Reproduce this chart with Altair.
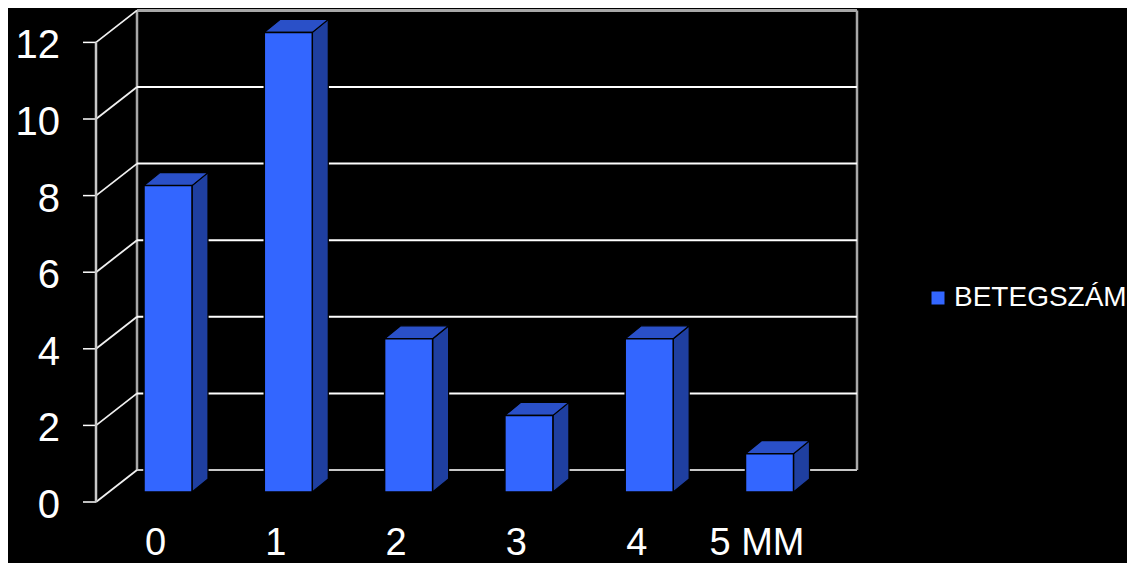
import altair as alt
import pandas as pd

# ---------------- data ----------------
categories = ["0", "1", "2", "3", "4", "5 MM"]
values = [8, 12, 4, 2, 4, 1]
y_ticks = [0, 2, 4, 6, 8, 10, 12]
series_name = "BETEGSZÁM"

# ---------------- layout constants (pixels) ----------------
W, H = 1119, 555
PX_CAT = 120.3          # pixels per category step
PX_VAL = 38.3           # pixels per value unit
ORIGIN_X = 136          # chart x of first bar's front-left edge
ORIGIN_Y = 484          # chart y of bar bottoms (value 0)

def ux(page_x):
    return (page_x - 8 - ORIGIN_X) / PX_CAT

def vy(page_y):
    return (ORIGIN_Y - (page_y - 8)) / PX_VAL

XDOM = [ux(8), ux(8 + W)]
YDOM = [vy(8 + H), vy(8)]

BW = 48 / PX_CAT         # bar front width
DX = 16 / PX_CAT         # bar depth (x)
DY = 13 / PX_VAL         # bar depth (y)
BACK_L, BACK_R = ux(137), ux(857)
BACK_DV = vy(470)        # back wall zero level
FRONT_X = ux(96)
FRONT_DV = vy(502)       # front axis zero level
TICK_X0 = ux(83)

xs = alt.Scale(domain=XDOM, nice=False, zero=False)
ys = alt.Scale(domain=YDOM, nice=False, zero=False)

def X(f):
    return alt.X(f, type="quantitative", scale=xs, axis=None)

def Y(f):
    return alt.Y(f, type="quantitative", scale=ys, axis=None)

# ---------------- tables ----------------
bars = pd.DataFrame({
    "cat": categories,
    "x0": [i for i in range(len(values))],
    "x1": [i + BW for i in range(len(values))],
    "y0": [0] * len(values),
    "y1": values,
    "series": [series_name] * len(values),
})

side_rows, top_rows = [], []
for i, v in enumerate(values):
    side_rows.append({"bar": i, "x": i + BW, "lo": 0, "hi": v})
    side_rows.append({"bar": i, "x": i + BW + DX, "lo": DY, "hi": v + DY})
    top_rows.append({"bar": i, "y": v, "xa": i, "xb": i + BW})
    top_rows.append({"bar": i, "y": v + DY, "xa": i + DX, "xb": i + BW + DX})
side = pd.DataFrame(side_rows)
top = pd.DataFrame(top_rows)

grid = pd.DataFrame({
    "xa": [BACK_L] * len(y_ticks),
    "xb": [BACK_R] * len(y_ticks),
    "y": [g + BACK_DV for g in y_ticks],
    "g": y_ticks,
})
inner_grid = grid[(grid.g > 0) & (grid.g < 12)]
edge_grid = grid[(grid.g == 0)]
top_grid = grid[(grid.g == 12)]

diag = pd.DataFrame({
    "xa": [FRONT_X] * len(y_ticks),
    "xb": [BACK_L] * len(y_ticks),
    "ya": [g + FRONT_DV for g in y_ticks],
    "yb": [g + BACK_DV for g in y_ticks],
    "tx": [TICK_X0] * len(y_ticks),
    "lab": [str(g) for g in y_ticks],
    "ly": [g + FRONT_DV - 16 / PX_VAL for g in y_ticks],
    "lx": [ux(60)] * len(y_ticks),
})

walls = pd.DataFrame({
    "x": [BACK_L, BACK_R],
    "ya": [BACK_DV, BACK_DV],
    "yb": [12 + BACK_DV, 12 + BACK_DV],
})
front_axis = pd.DataFrame({"x": [FRONT_X], "ya": [FRONT_DV], "yb": [12 + FRONT_DV]})

xlabels = pd.DataFrame({
    "cat": categories,
    "x": [i + 11.5 / PX_CAT for i in range(len(categories))],
    "y": [vy(554.5)] * len(categories),
})

# ---------------- layers ----------------
wall_lines = alt.Chart(walls).mark_rule(color="#a8a8a8", strokeWidth=2.5).encode(
    x=X("x"), y=Y("ya"), y2="yb")
inner = alt.Chart(inner_grid).mark_rule(color="#ffffff", strokeWidth=2).encode(
    x=X("xa"), x2="xb", y=Y("y"))
bottom = alt.Chart(edge_grid).mark_rule(color="#c8c8c8", strokeWidth=2).encode(
    x=X("xa"), x2="xb", y=Y("y"))
topline = alt.Chart(top_grid).mark_rule(color="#a8a8a8", strokeWidth=3).encode(
    x=X("xa"), x2="xb", y=Y("y"))
diags = alt.Chart(diag).mark_rule(color="#f0f0f0", strokeWidth=1.8).encode(
    x=X("xa"), x2="xb", y=Y("ya"), y2="yb")
ticks = alt.Chart(diag).mark_rule(color="#ffffff", strokeWidth=1.5).encode(
    x=X("tx"), x2="xa", y=Y("ya"))
faxis = alt.Chart(front_axis).mark_rule(color="#c8c8c8", strokeWidth=2.5).encode(
    x=X("x"), y=Y("ya"), y2="yb")
ylabels = alt.Chart(diag).mark_text(
    align="right", baseline="alphabetic", font="Liberation Sans", fontSize=40, color="white"
).encode(x=X("lx"), y=Y("ly"), text="lab:N")
xlab = alt.Chart(xlabels).mark_text(
    align="center", baseline="alphabetic", font="Liberation Sans", fontSize=38, color="white"
).encode(x=X("x"), y=Y("y"), text="cat:N")

side_faces = alt.Chart(side).mark_area(
    color="#1f3fa0", stroke="#000000", strokeWidth=1.2, opacity=1
).encode(x=X("x"), y=Y("lo"), y2="hi", detail="bar:N")
top_faces = alt.Chart(top).mark_area(
    orient="horizontal", color="#2a50c8", stroke="#000000", strokeWidth=1.2, opacity=1
).encode(y=Y("y"), x=X("xa"), x2="xb", detail="bar:N")
front_faces = alt.Chart(bars).mark_rect(
    stroke="#000000", strokeWidth=1.5, opacity=1
).encode(
    x=X("x0"), x2="x1", y=Y("y0"), y2="y1",
    color=alt.Color(
        "series:N",
        scale=alt.Scale(domain=[series_name], range=["#3366ff"]),
        legend=alt.Legend(
            title=None, orient="none", legendX=916, legendY=276, padding=0,
            symbolType="square", symbolSize=169, symbolStrokeWidth=0,
            labelFont="Liberation Sans", labelFontSize=28, labelColor="white",
            labelOffset=2, labelLimit=0,
        ),
    ),
)

chart = alt.layer(
    wall_lines, inner, bottom, topline, diags, ticks, faxis,
    side_faces, top_faces, front_faces, ylabels, xlab,
).properties(
    width=W, height=H, background="black", padding=0,
    autosize=alt.AutoSizeParams(type="none"),
).configure_view(stroke=None)

chart.save("out.html", embed_options={"renderer": "svg", "actions": False})
